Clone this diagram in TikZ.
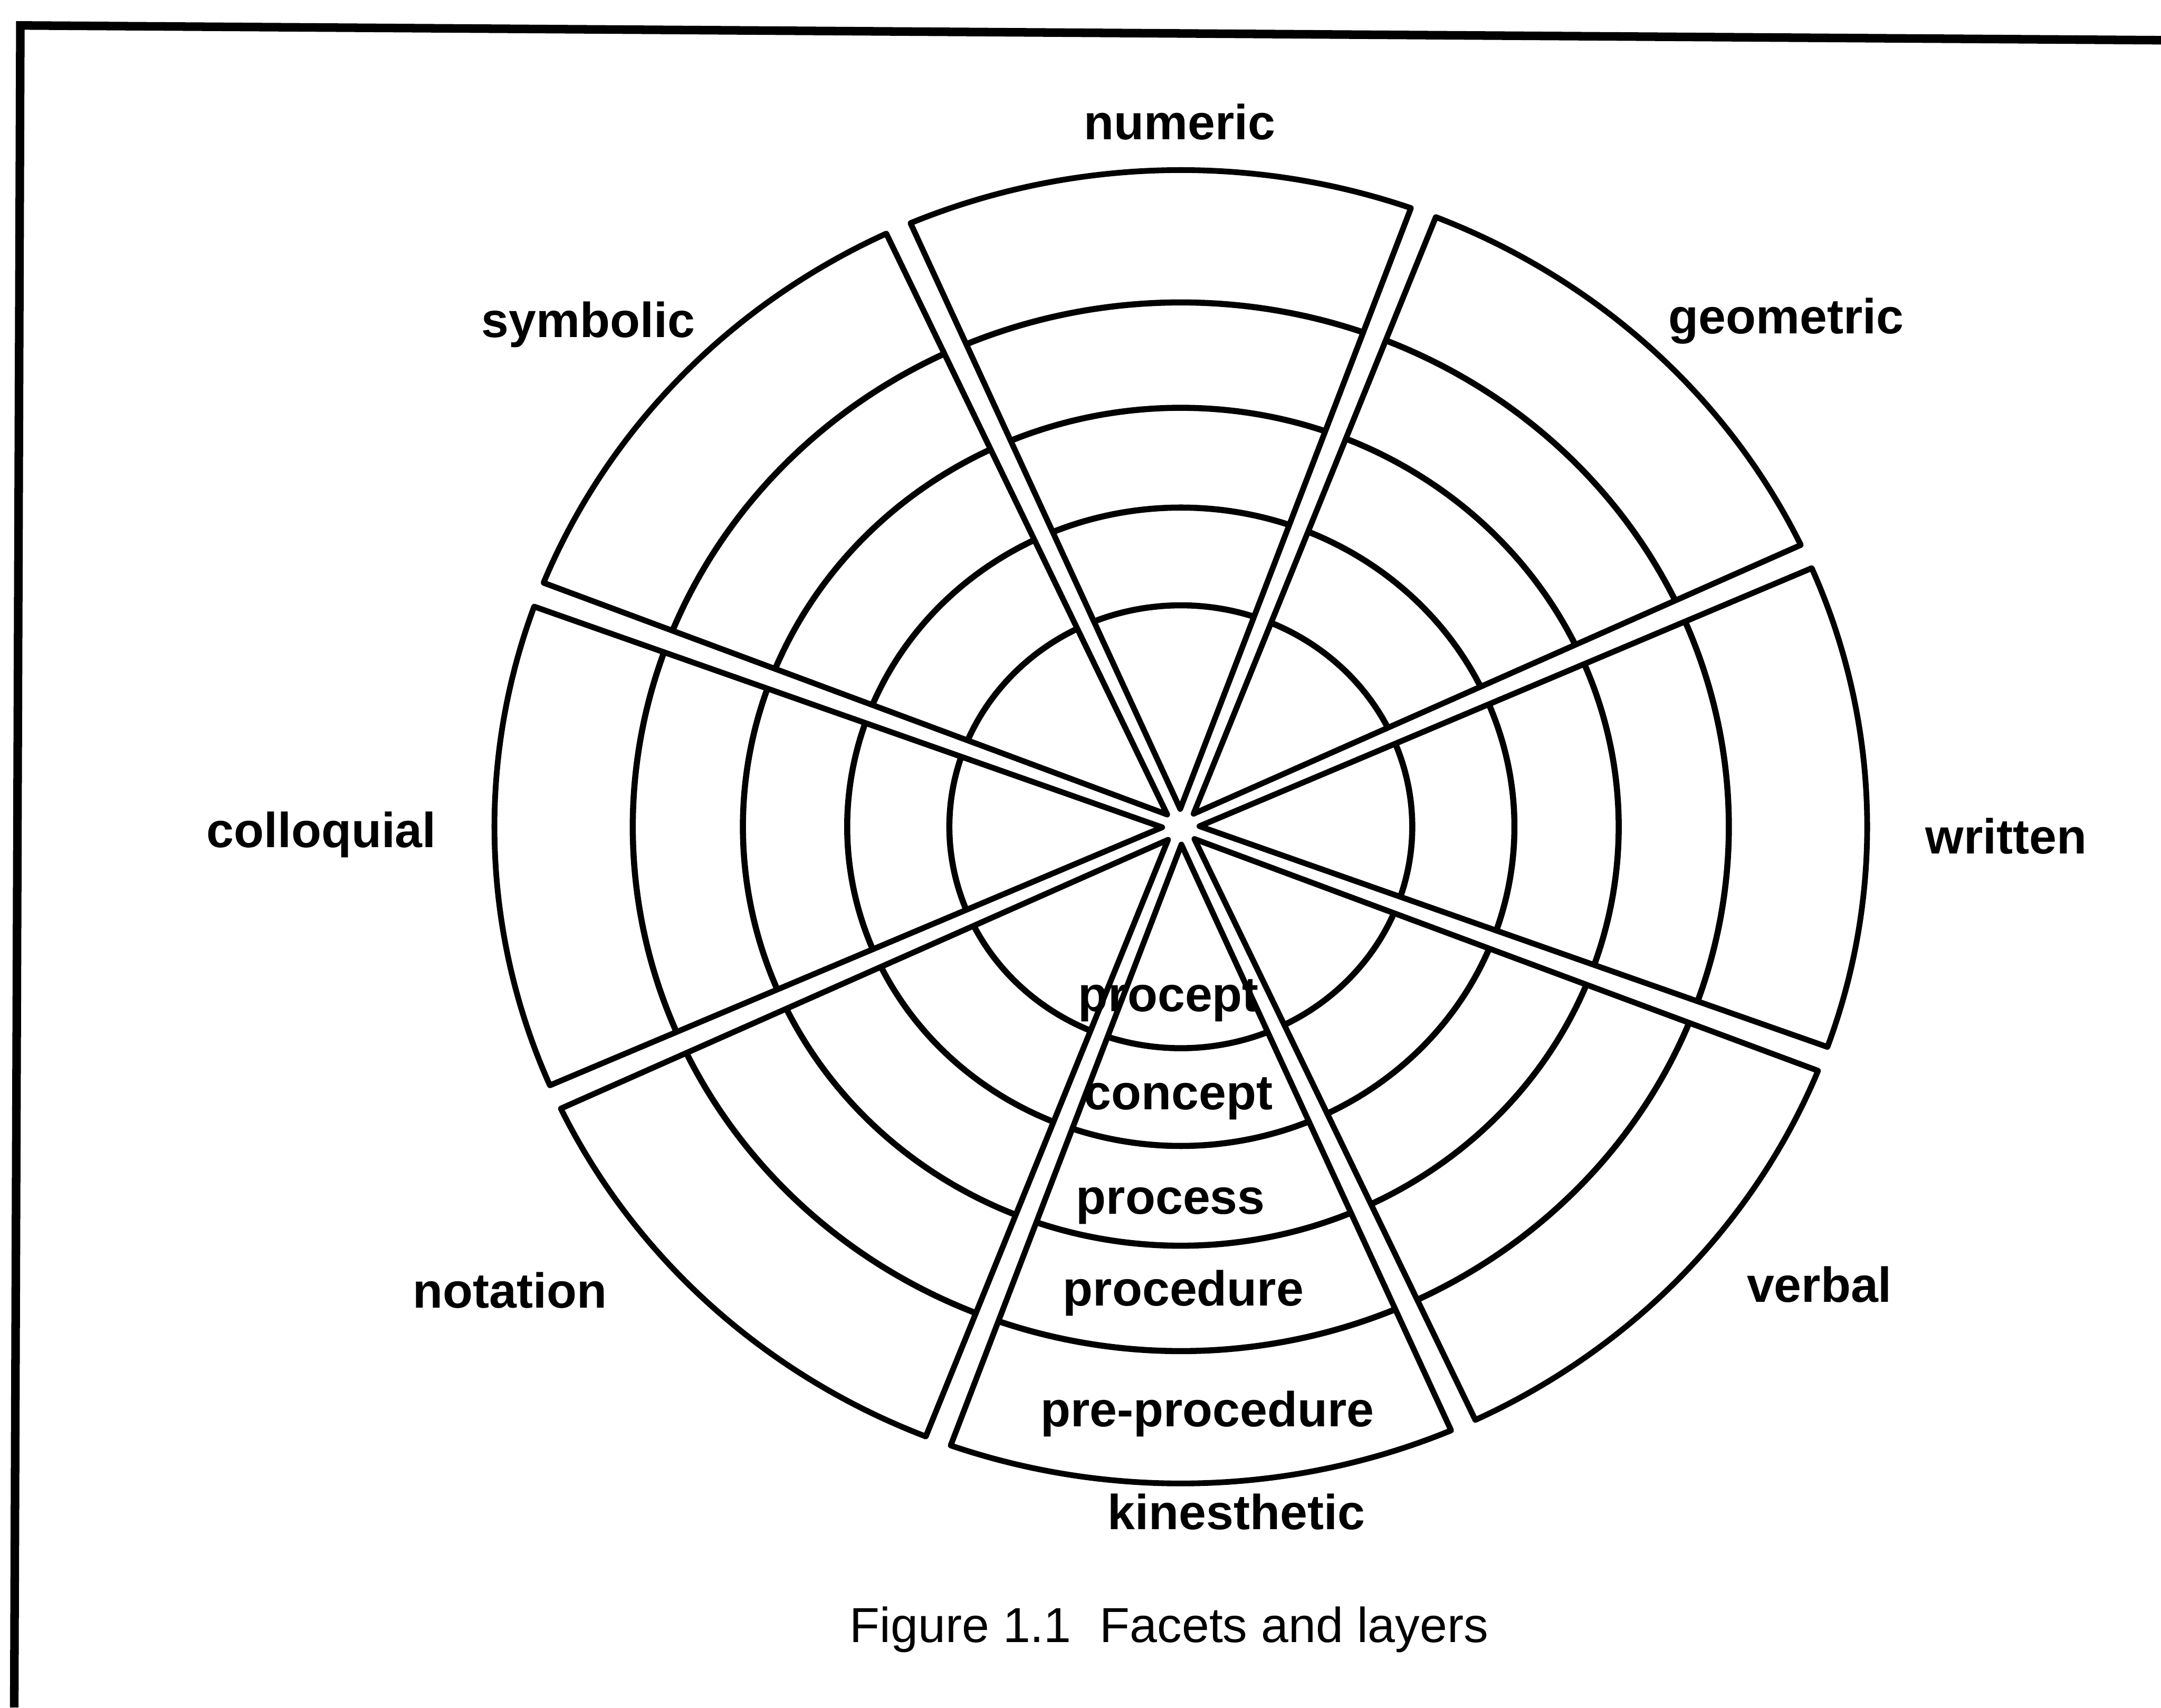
\documentclass[tikz,border=0pt]{standalone}
\usepackage{fontspec}
\setmainfont{Liberation Sans}
\usepackage{tikz}
\usetikzlibrary{calc}

\begin{document}
\begin{tikzpicture}[
    facet/.style={
        font=\fontsize{27.5}{33}\selectfont\bfseries, anchor=base, inner sep=0pt
    },
    layer/.style={
        font=\fontsize{27.5}{33}\selectfont\bfseries, anchor=base, inner sep=0pt
    },
    caption/.style={
        font=\fontsize{27.5}{33}\selectfont, anchor=base, inner sep=0pt
    },
    wedge/.style={
        draw=black, line width=3.2pt, line join=round
    },
    ring/.style={
        draw=black, line width=3.4pt
    },
    frame/.style={
        draw=black, line width=4.8pt, line join=miter
    }
]
\useasboundingbox (-23.19,-17.30) rectangle (19.25,16.24);

% Frame (top and left edges only)
\coordinate (framebl) at (-22.91,-17.30);
\coordinate (frametl) at (-22.79,15.74);
\coordinate (frametr) at (19.25,15.45);
\draw[frame] (framebl) -- (frametl) -- (frametr);

% Wheel: eight wedges with four layer arcs each
\begin{scope}[xscale=1.045]
\coordinate (hub) at (0,0);
\foreach \ang [count=\i] in {0,45,...,315} {
    \pgfmathsetmacro{\bis}{\ang+1.8}
    \pgfmathsetmacro{\bfive}{22.5-asin(0.25/12.9)}
    \coordinate (tip\i) at (\bis:0.35);
    \draw[wedge] (tip\i) -- ({\bis-\bfive}:12.9)
        arc[start angle={\bis-\bfive}, end angle={\bis+\bfive}, radius=12.9] -- cycle;
    \foreach \rad in {4.35,6.27,8.23,10.30} {
        \pgfmathsetmacro{\half}{22.5-asin((0.134+0.116*\rad/12.9)/\rad)}
        \draw[ring] ({\bis-\half}:\rad)
            arc[start angle={\bis-\half}, end angle={\bis+\half}, radius=\rad];
    }
}
\end{scope}

% Facets
\node[facet] (numeric) at (-0.02,13.50) {numeric};
\node[facet] (geometric) at (11.89,9.69) {geometric};
\node[facet] (written) at (16.21,-0.53) {written};
\node[facet] (verbal) at (12.54,-9.34) {verbal};
\node[facet] (kinesthetic) at (1.09,-13.80) {kinesthetic};
\node[facet] (notation) at (-13.18,-9.45) {notation};
\node[facet] (colloquial) at (-16.88,-0.41) {colloquial};
\node[facet] (symbolic) at (-11.64,9.61) {symbolic};

% Layers (in the kinesthetic wedge)
\node[layer] (procept) at (-0.24,-3.63) {procept};
\node[layer] (concept) at (-0.05,-5.56) {concept};
\node[layer] (process) at (-0.20,-7.61) {process};
\node[layer] (procedure) at (0.05,-9.41) {procedure};
\node[layer] (preprocedure) at (0.52,-11.78) {pre-procedure};

% Caption
\node[caption] (figcaption) at (-0.23,-16.02) {Figure 1.1\hspace{0.3em} Facets and layers};

\end{tikzpicture}
\end{document}
